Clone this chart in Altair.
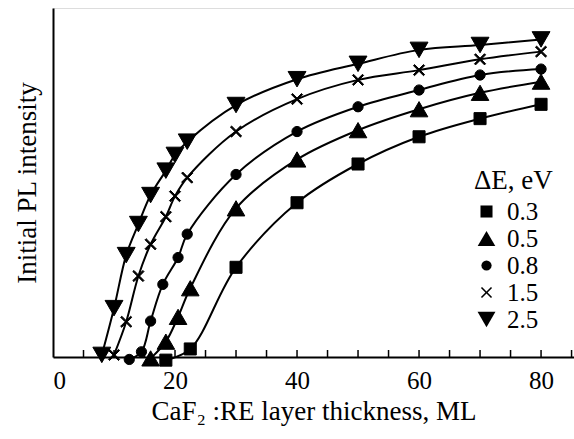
import altair as alt
import pandas as pd

series_labels = ["0.3", "0.5", "0.8", "1.5", "2.5"]

x_03 = [18.5, 22.5, 30, 40, 50, 60, 70, 80]
y_03 = [-0.9, 2.3, 25.7, 44.2, 55.3, 63.1, 68.3, 72.4]

x_05 = [16, 18.5, 20.5, 22.5, 30, 40, 50, 60, 70, 80]
y_05 = [-0.4, 4.4, 11.5, 19.7, 42.6, 56.6, 65, 71, 75.7, 78.9]

x_08 = [12.5, 14.5, 16, 18, 20.5, 22, 30, 40, 50, 60, 70, 80]
y_08 = [-0.7, 1.5, 10.3, 20.8, 28.5, 35.2, 52.3, 64.6, 71.7, 76.5, 80.8, 82.5]

x_15 = [10, 12, 14, 16, 18.5, 20, 22, 30, 40, 50, 60, 70, 80]
y_15 = [0.6, 10.1, 23.2, 32.3, 40.2, 46.1, 51.4, 64.6, 73.9, 79.4, 82.2, 85.3, 87.5]

x_25 = [8, 10, 12, 14, 16, 18.5, 20, 22, 30, 40, 50, 60, 70, 80]
y_25 = [0.6, 14, 29.2, 38.1, 46.4, 53.4, 57.9, 61.7, 72.2, 79.6, 84, 88, 89.4, 91]

x_ticks = [5, 10, 15, 20, 25, 30, 35, 40, 45, 50, 55, 60, 65, 70, 75, 80, 85]
x_labels = [0, 20, 40, 60, 80]

rows = []
for lab, xs, ys in zip(series_labels, [x_03, x_05, x_08, x_15, x_25],
                       [y_03, y_05, y_08, y_15, y_25]):
    for xv, yv in zip(xs, ys):
        rows.append({"dE": lab, "x": xv, "y": yv})
df = pd.DataFrame(rows)
tick_values = [{"t": float(v)} for v in x_ticks]

W, H = 521, 349
FONT = "Liberation Serif"

xscale = alt.Scale(domain=[0, 85.4], nice=False, zero=False)
yscale = alt.Scale(domain=[0, 100], nice=False, zero=False)

cross_path = ("M-1,-0.8L-0.8,-1L0,-0.2L0.8,-1L1,-0.8L0.2,0L1,0.8"
              "L0.8,1L0,0.2L-0.8,1L-1,0.8L-0.2,0Z")
shape_scale = alt.Scale(domain=series_labels,
                        range=["square", "triangle-up", "circle", cross_path, "triangle-down"])
size_scale = alt.Scale(type="ordinal", domain=series_labels,
                       range=[145, 310, 105, 125, 320])

legend = alt.Legend(title="ΔE, eV", orient="none", legendX=421, legendY=160,
                    titleFont=FONT, titleFontSize=27, titleFontWeight="normal",
                    titleColor="black", labelFont=FONT, labelFontSize=25,
                    labelColor="black", symbolFillColor="black",
                    symbolStrokeColor="black", symbolStrokeWidth=1,
                    rowPadding=1, labelOffset=8, titlePadding=4)

lines = alt.Chart(df).mark_line(interpolate="catmull-rom", color="black",
                                strokeWidth=2).encode(
    x=alt.X("x:Q", scale=xscale,
            axis=alt.Axis(title="CaF₂ :RE layer thickness, ML", values=x_labels,
                          ticks=False, grid=False, domainColor="black",
                          domainWidth=2, labelFont=FONT, labelFontSize=25,
                          labelColor="black", labelPadding=11,
                          titleFont=FONT, titleFontSize=27,
                          titleFontWeight="normal", titleColor="black",
                          titlePadding=5)),
    y=alt.Y("y:Q", scale=yscale,
            axis=alt.Axis(title="Initial PL intensity", ticks=False, labels=False,
                          grid=False, domainColor="black", domainWidth=2,
                          titleFont=FONT, titleFontSize=27,
                          titleFontWeight="normal", titleColor="black",
                          titlePadding=12)),
    detail="dE:N",
)

points = alt.Chart(df).mark_point(filled=True, color="black", stroke="black",
                                  strokeWidth=1, opacity=1).encode(
    x=alt.X("x:Q", scale=xscale),
    y=alt.Y("y:Q", scale=yscale),
    shape=alt.Shape("dE:N", scale=shape_scale, legend=legend),
    size=alt.Size("dE:N", scale=size_scale, legend=legend),
)

tickmarks = alt.Chart(alt.Data(values=tick_values)).mark_rule(
    color="black", strokeWidth=1.5).encode(
    x=alt.X("t:Q", scale=xscale),
    y=alt.value(H - 7),
    y2=alt.value(H),
)

chart = alt.layer(lines, points, tickmarks).properties(
    width=W, height=H,
    autosize=alt.AutoSizeParams(type="none"),
    padding={"left": 53, "top": 8, "right": 0, "bottom": 82},
).configure_view(stroke=None).configure(background="white")

chart.save("out.html", embed_options={"renderer": "svg", "actions": False})
